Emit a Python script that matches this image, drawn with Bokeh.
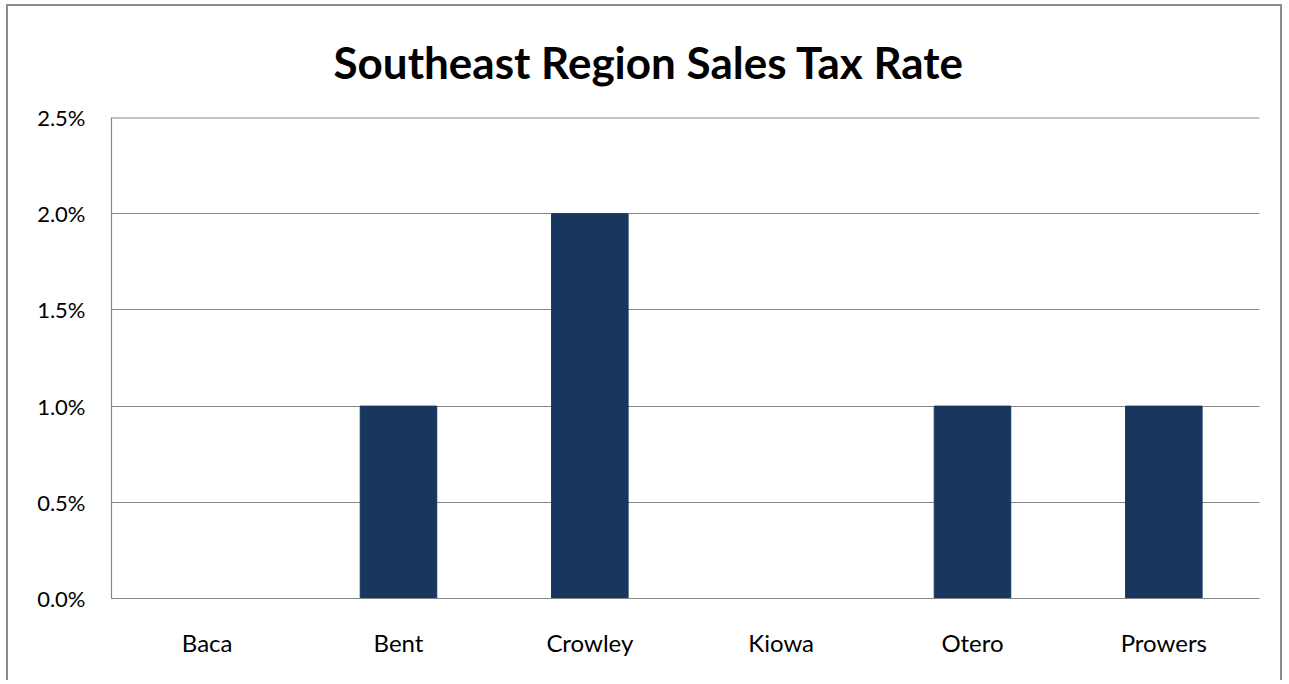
from bokeh.plotting import figure
from bokeh.models import NumeralTickFormatter, FixedTicker, Span
from bokeh.embed import file_html
from bokeh.resources import INLINE

categories = ["Baca", "Bent", "Crowley", "Kiowa", "Otero", "Prowers"]
tax_rate = [0.0, 0.01, 0.02, 0.0, 0.01, 0.01]
y_ticks = [0.0, 0.005, 0.01, 0.015, 0.02, 0.025]
title_text = "Southeast Region Sales Tax Rate"

FONT = "Lato"
GRID = "#868686"

p = figure(
    x_range=categories, y_range=(0, y_ticks[-1]),
    width=1276, height=676,
    output_backend="svg", toolbar_location=None,
    min_border_left=103, min_border_top=111, min_border_right=25, min_border_bottom=84,
)
p.margin = (4, 0, 0, 6)
p.styles = {"border-left": "2px solid #8c8c8c", "border-top": "2px solid #8c8c8c",
            "border-right": "2px solid #8c8c8c"}

p.vbar(x=categories, top=tax_rate, width=0.4, color="#17375E")

p.outline_line_color = None
p.xgrid.grid_line_color = None
p.ygrid.grid_line_color = GRID
p.ygrid.grid_line_width = 1.2
p.add_layout(Span(location=y_ticks[-1], dimension="width", line_color=GRID, line_width=2))

p.yaxis.ticker = FixedTicker(ticks=y_ticks)
p.yaxis.formatter = NumeralTickFormatter(format="0.0%")
for ax in (p.xaxis[0], p.yaxis[0]):
    ax.axis_line_color = GRID
    ax.axis_line_width = 1.2
    ax.major_tick_line_color = None
    ax.minor_tick_line_color = None
    ax.major_label_text_font = FONT
    ax.major_label_text_color = "#000000"
p.yaxis.major_label_text_font_size = "22px"
p.xaxis.major_label_text_font_size = "24px"
p.yaxis.major_label_standoff = 20
p.xaxis.major_label_standoff = 23

p.title.text = title_text
p.title.align = "left"
p.title.vertical_align = "middle"
p.title.offset = 222
p.title.standoff = 57
p.title.text_font = FONT
p.title.text_font_style = "bold"
p.title.text_font_size = "44px"
p.title.text_color = "#000000"

open("out.html", "w").write(file_html(p, INLINE))
